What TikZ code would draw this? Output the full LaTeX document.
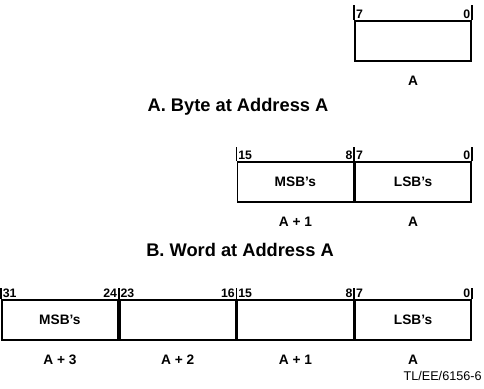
\documentclass[tikz,border=0pt]{standalone}
\usepackage{fontspec}
\setmainfont{Liberation Sans}
\usetikzlibrary{positioning}

\begin{document}
\begin{tikzpicture}[x=0.02cm, y=-0.02cm, node distance=0pt,
        cell/.style={rectangle,draw,line width=1pt,minimum width=2.32cm,
          minimum height=0.8cm,inner sep=0pt,font=\fontsize{7.8}{9}\selectfont\bfseries},
        bitno/.style={font=\fontsize{7}{8}\selectfont\bfseries,inner sep=0.8pt},
        addr/.style={font=\fontsize{7.8}{9}\selectfont\bfseries,anchor=base},
        caption/.style={font=\fontsize{10.4}{12}\selectfont\bfseries,anchor=base},
        tick/.style={line width=1pt}]
        \useasboundingbox (0,0) rectangle (484,389);
        % byte
        \node[cell,anchor=north east] (a0) at (472,20) {};
        \draw[tick] (a0.north west) -- ++(0,-15);
        \draw[tick] (a0.north east) -- ++(0,-15);
        \node[bitno,anchor=south west] at (a0.north west) {7};
        \node[bitno,anchor=south east] at (a0.north east) {0};
        \node[addr] (la0) at ([yshift=-0.47cm]a0.south) {A};
        \node[caption] (ta) at (238,111) {A. Byte at Address A};
        % word
        \node[cell,anchor=north east] (w0) at (472,161) {LSB's};
        \node[cell,left=of w0] (w1) {MSB's};
        \draw[tick] (w1.north west) -- ++(0,-14);
        \draw[tick] (w0.north west) -- ++(0,-14);
        \draw[tick] (w0.north east) -- ++(0,-14);
        \node[bitno,anchor=south west] at (w1.north west) {15};
        \node[bitno,anchor=south east] at (w1.north east) {8};
        \node[bitno,anchor=south west] at (w0.north west) {7};
        \node[bitno,anchor=south east] at (w0.north east) {0};
        \node[addr] (lw1) at ([yshift=-0.47cm]w1.south) {A + 1};
        \node[addr] (lw0) at ([yshift=-0.47cm]w0.south) {A};
        \node[caption] (tb) at (240,256) {B. Word at Address A};
        % double word
        \node[cell,anchor=north east] (d0) at (472,299) {LSB's};
        \node[cell,left=of d0] (d1) {};
        \node[cell,left=of d1] (d2) {};
        \node[cell,left=of d2] (d3) {MSB's};
        \draw[tick] (d3.north west) -- ++(0,-11);
        \draw[tick] (d2.north west) -- ++(0,-11);
        \draw[tick] (d1.north west) -- ++(0,-11);
        \draw[tick] (d0.north west) -- ++(0,-11);
        \draw[tick] (d0.north east) -- ++(0,-11);
        \node[bitno,anchor=south west] at (d3.north west) {31};
        \node[bitno,anchor=south east] at (d3.north east) {24};
        \node[bitno,anchor=south west] at (d2.north west) {23};
        \node[bitno,anchor=south east] at (d2.north east) {16};
        \node[bitno,anchor=south west] at (d1.north west) {15};
        \node[bitno,anchor=south east] at (d1.north east) {8};
        \node[bitno,anchor=south west] at (d0.north west) {7};
        \node[bitno,anchor=south east] at (d0.north east) {0};
        \node[addr] (ld3) at ([yshift=-0.47cm]d3.south) {A + 3};
        \node[addr] (ld2) at ([yshift=-0.47cm]d2.south) {A + 2};
        \node[addr] (ld1) at ([yshift=-0.47cm]d1.south) {A + 1};
        \node[addr] (ld0) at ([yshift=-0.47cm]d0.south) {A};
        \node[anchor=base east,inner sep=0pt,font=\fontsize{7.2}{8}\selectfont] (tl) at (482,380) {TL/EE/6156-6};
      \end{tikzpicture}
\end{document}
